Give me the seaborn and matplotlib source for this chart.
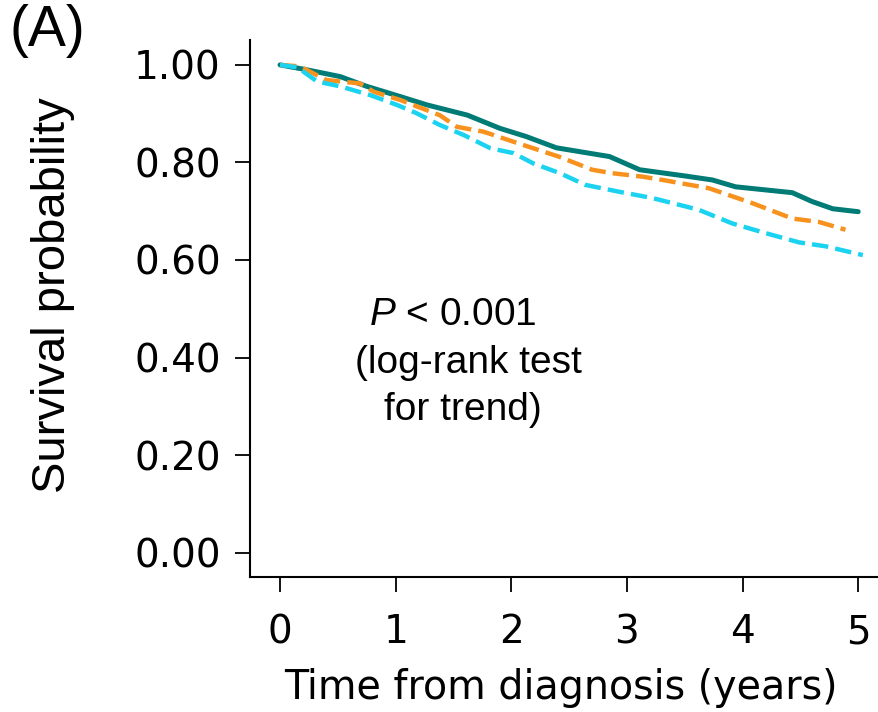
import matplotlib
matplotlib.use("Agg")
import matplotlib.pyplot as plt
import seaborn as sns
import pandas as pd

# ---- data ----
teal_t = [0, 0.23, 0.52, 0.75, 1.04, 1.27, 1.62, 1.90, 2.13, 2.39, 2.85, 3.11, 3.51, 3.74, 3.94, 4.43, 4.60, 4.78, 5.00]
teal_v = [1.0, 0.990, 0.976, 0.956, 0.935, 0.918, 0.897, 0.870, 0.853, 0.830, 0.812, 0.785, 0.772, 0.764, 0.750, 0.738, 0.720, 0.705, 0.699]

orange_t = [0, 0.17, 0.40, 0.69, 0.81, 1.04, 1.38, 1.53, 1.76, 2.10, 2.41, 2.70, 2.87, 3.13, 3.31, 3.71, 4.09, 4.43, 4.66, 4.89]
orange_v = [1.0, 0.997, 0.969, 0.962, 0.945, 0.928, 0.897, 0.873, 0.863, 0.836, 0.812, 0.785, 0.778, 0.771, 0.764, 0.747, 0.716, 0.685, 0.678, 0.662]

cyan_t = [0, 0.15, 0.32, 0.52, 0.78, 1.01, 1.18, 1.38, 1.59, 1.82, 2.02, 2.19, 2.42, 2.64, 2.93, 3.22, 3.62, 3.91, 4.20, 4.49, 4.72, 5.04]
cyan_v = [1.0, 0.995, 0.966, 0.956, 0.938, 0.918, 0.901, 0.877, 0.856, 0.829, 0.819, 0.798, 0.778, 0.754, 0.740, 0.727, 0.703, 0.675, 0.655, 0.636, 0.628, 0.610]

x_ticks = [0, 1, 2, 3, 4, 5]
y_ticks = [0.0, 0.2, 0.4, 0.6, 0.8, 1.0]
y_ticklabels = ["0.00", "0.20", "0.40", "0.60", "0.80", "1.00"]

# ---- style ----
sns.set_style("ticks")
plt.rcParams["font.family"] = ["Liberation Sans", "DejaVu Sans"]
plt.rcParams["mathtext.fontset"] = "custom"
plt.rcParams["mathtext.it"] = "Liberation Sans:italic"
plt.rcParams["mathtext.rm"] = "Liberation Sans"

WIDE = ["DejaVu Sans"]

fig = plt.figure(figsize=(8.79, 7.12), dpi=100)
ax = fig.add_axes([0.2844, 0.1896, 0.7156, 0.7542])

series = [
    (teal_t, teal_v, "#007b76", "-", None, 3.6),
    (orange_t, orange_v, "#f7921f", "--", (5.5, 2.3), 3.2),
    (cyan_t, cyan_v, "#1bd3f1", "--", (4.3, 2.8), 3.2),
]
for t, v, col, ls, dash, lw in series:
    df = pd.DataFrame({"t": t, "v": v})
    kw = dict(color=col, linewidth=lw, linestyle=ls)
    if dash is not None:
        kw["dashes"] = dash
    sns.lineplot(data=df, x="t", y="v", ax=ax, estimator=None, sort=False, **kw)

ax.set_xlim(-0.26, 5.18)
ax.set_ylim(-0.05, 1.051)
ax.set_xticks(x_ticks)
ax.set_xticklabels([str(x) for x in x_ticks], family=WIDE, fontsize=28)
ax.set_yticks(y_ticks)
ax.set_yticklabels(y_ticklabels, family=WIDE, fontsize=28)

for s in ["top", "right"]:
    ax.spines[s].set_visible(False)
for s in ["left", "bottom"]:
    ax.spines[s].set_linewidth(1.5)
    ax.spines[s].set_color("black")

ax.tick_params(axis="both", length=11, width=1.3, color="black", labelcolor="black")
ax.tick_params(axis="x", pad=15)
ax.tick_params(axis="y", pad=10)

ax.set_xlabel("Time from diagnosis (years)", fontsize=28.5, family=WIDE, color="black", va="top")
ax.set_ylabel("Survival probability", fontsize=34, color="black")
ax.xaxis.set_label_coords(0.495, -0.1695)
ax.yaxis.set_label_coords(-0.278, 0.525)

ax.text(1.49, 0.467, r"$\mathit{P}$ < 0.001", ha="center", va="baseline", fontsize=28, color="black")
ax.text(1.63, 0.368, "(log-rank test", ha="center", va="baseline", fontsize=28, color="black")
ax.text(1.58, 0.272, "for trend)", ha="center", va="baseline", fontsize=28, color="black")

fig.text(10 / 879, 1 - 4 / 712, "(A)", ha="left", va="top", fontsize=41, color="black")

fig.savefig("out.png", dpi=100)
